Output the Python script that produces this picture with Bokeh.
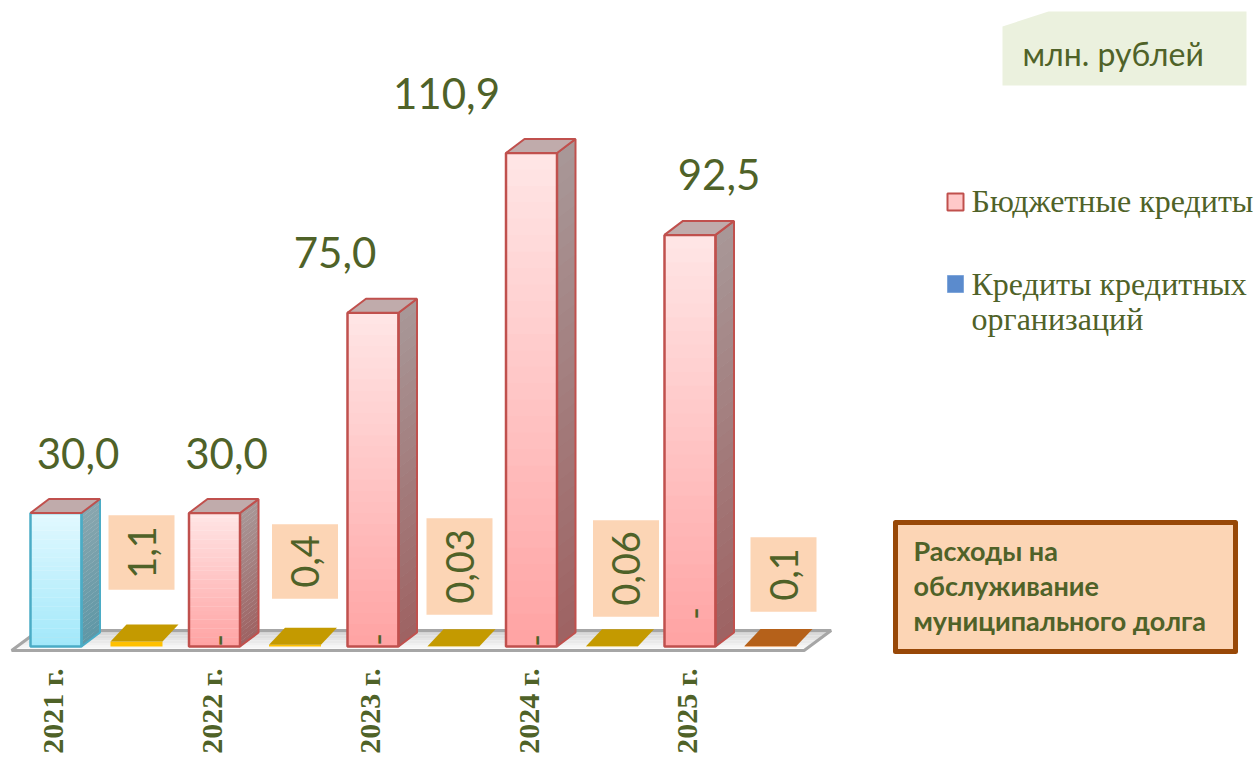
import numpy as np
from bokeh.plotting import figure
from bokeh.models import Range1d, ColumnDataSource
from bokeh.core.properties import value
from bokeh.embed import file_html
from bokeh.resources import INLINE

# ---------------- data ----------------
years = ["2021 г.", "2022 г.", "2023 г.", "2024 г.", "2025 г."]
budget_credits = [0.0, 30.0, 75.0, 110.9, 92.5]      # Бюджетные кредиты
bank_credits = [30.0, 0.0, 0.0, 0.0, 0.0]            # Кредиты кредитных организаций
debt_service = [1.1, 0.4, 0.03, 0.06, 0.1]           # Расходы на обслуживание долга

series_names = ["Бюджетные кредиты", "Кредиты кредитных организаций"]
unit_text = "млн. рублей"
box_lines = ["Расходы на", "обслуживание", "муниципального долга"]

# ---------------- layout / style ----------------
W, H = 1256, 760
PX0, SX = 55.5, 158.5        # pixel x of first category, px per category
PY0, SY = 646.0, 4.45        # pixel y of zero line, px per unit
BL = 0.38                    # baseline correction (fraction of font size)


def X(px):
    return (px - PX0) / SX


def Y(py):
    return (PY0 - py) / SY


def dX(px):
    return px / SX


def dY(py):
    return py / SY


GREEN = "#4F6228"
BAR_HW = dX(25.5)
DX, DY = dX(18.5), dY(14)
SERV_OFF = dX(80.5)
SERV_HW = dX(26)
SDX, SDY = dX(16), dY(17)

total_label_dx_px = [22, 12, -38, -85, 29]
total_label_gap_px = 30
service_label_dx_px = [5, 10, 6, 14, 13]
service_label_yc_px = [552, 561, 566, 568, 574]
dash_label_y_px = [640, 640, 639, 640, 613]
service_top_colors = ["#C49A00", "#C49A00", "#C49A00", "#C49A00", "#B5611A"]
service_front_colors = ["#FFC000", "#FFC000", "#FFC000", "#FFC000", "#E46C0A"]

styles = {
    "budget": dict(front=("#FFE6E6", "#FFA3A3"), side=("#A89898", "#9E6262"),
                   top="#C0ABAB", line="#C0504D"),
    "bank": dict(front=("#E2F9FF", "#A2E8FA"), side=("#8AA6AE", "#5E97A6"),
                 top="#C0ABAB", line="#4BACC6"),
}


def hex2rgb(h):
    h = h.lstrip("#")
    return np.array([int(h[i:i + 2], 16) for i in (0, 2, 4)], dtype=float)


def lerp(c1, c2, t):
    a, b = hex2rgb(c1), hex2rgb(c2)
    c = a + (b - a) * t
    return "#%02x%02x%02x" % tuple(int(round(v)) for v in c)


p = figure(width=W, height=H, output_backend="svg", toolbar_location=None,
           x_range=Range1d(X(0), X(W)), y_range=Range1d(Y(H), Y(0)),
           x_axis_location=None, y_axis_location=None, min_border=0,
           outline_line_color=None, background_fill_color="white",
           border_fill_color="white")
p.grid.visible = False

# ---------------- floor ----------------
n_cat = len(years)
fl_l, fl_r = -0.28, (n_cat - 1) + 0.72
fl_y0, fl_y1 = Y(650), Y(630)
fl_dx = dX(27)
NF = 8
fxs, fys, fcs = [], [], []
for k in range(NF):
    t0, t1 = k / NF, (k + 1) / NF
    ya, yb = fl_y0 + (fl_y1 - fl_y0) * t0, fl_y0 + (fl_y1 - fl_y0) * t1
    xa, xb = fl_dx * t0, fl_dx * t1
    fxs.append([fl_l + xa, fl_r + xa, fl_r + xb, fl_l + xb])
    fys.append([ya, ya, yb, yb])
    fcs.append(lerp("#FFFFFF", "#D0D0D0", (t0 + t1) / 2))
p.patches(xs=fxs, ys=fys, fill_color=fcs, line_color=None)
p.patch(x=[fl_l, fl_r, fl_r + fl_dx, fl_l + fl_dx], y=[fl_y0, fl_y0, fl_y1, fl_y1],
        fill_color=None, line_color="#A6A6A6", line_width=3)

# ---------------- flat service bars ----------------
for i, v in enumerate(debt_service):
    c = i + SERV_OFF
    l, r = c - SERV_HW, c + SERV_HW
    p.quad(left=[l], right=[r], bottom=[0], top=[v], fill_color=service_front_colors[i],
           line_color=None)
    p.patch(x=[l, r, r + SDX, l + SDX], y=[v, v, v + SDY, v + SDY],
            fill_color=service_top_colors[i], line_color=None)

# ---------------- main 3D bars ----------------
N = 30
qd = dict(left=[], right=[], bottom=[], top=[], color=[])
sd = dict(xs=[], ys=[], color=[])
outline_front = dict(left=[], right=[], bottom=[], top=[], color=[])
outline_side = dict(xs=[], ys=[], color=[])
top_faces = dict(xs=[], ys=[], fill=[], line=[])

for i in range(n_cat):
    l, r = i - BAR_HW, i + BAR_HW
    base = 0.0
    for key, v in (("bank", bank_credits[i]), ("budget", budget_credits[i])):
        if v <= 0:
            continue
        st = styles[key]
        y0, y1 = base, base + v
        for k in range(N):
            a = y0 + v * k / N
            b = y0 + v * (k + 1) / N
            t = 1 - (k + 0.5) / N
            qd["left"].append(l)
            qd["right"].append(r)
            qd["bottom"].append(a)
            qd["top"].append(b + v * 0.002)
            qd["color"].append(lerp(st["front"][0], st["front"][1], t))
            sd["xs"].append([r, r + DX, r + DX, r])
            sd["ys"].append([a, a + DY, b + DY + v * 0.002, b + v * 0.002])
            sd["color"].append(lerp(st["side"][0], st["side"][1], t))
        outline_front["left"].append(l)
        outline_front["right"].append(r)
        outline_front["bottom"].append(y0)
        outline_front["top"].append(y1)
        outline_front["color"].append(st["line"])
        outline_side["xs"].append([r, r + DX, r + DX, r])
        outline_side["ys"].append([y0, y0 + DY, y1 + DY, y1])
        outline_side["color"].append(st["line"])
        base = y1
    st = styles["budget"]
    top_faces["xs"].append([l, r, r + DX, l + DX])
    top_faces["ys"].append([base, base, base + DY, base + DY])
    top_faces["fill"].append(st["top"])
    top_faces["line"].append(st["line"])

p.quad(left="left", right="right", bottom="bottom", top="top", fill_color="color",
       line_color=None, source=ColumnDataSource(qd))
p.patches(xs="xs", ys="ys", fill_color="color", line_color=None, source=ColumnDataSource(sd))
p.patches(xs="xs", ys="ys", fill_color=None, line_color="color", line_width=2,
          source=ColumnDataSource(outline_side))
p.quad(left="left", right="right", bottom="bottom", top="top", fill_color=None,
       line_color="color", line_width=2.5, source=ColumnDataSource(outline_front))
p.patches(xs="xs", ys="ys", fill_color="fill", line_color="line", line_width=2,
          source=ColumnDataSource(top_faces))

# ---------------- labels ----------------
totals = [a + b for a, b in zip(budget_credits, bank_credits)]
p.text(x=[i + dX(total_label_dx_px[i]) for i in range(n_cat)],
       y=[t + DY + dY(total_label_gap_px + BL * 42) for t in totals],
       text=[f"{t:.1f}".replace(".", ",") for t in totals],
       text_font=value("Lato"), text_font_size=value("42px"), text_color=GREEN,
       text_align="center", text_baseline="alphabetic")

# rotated service labels with boxes
p.text(x=[i + SERV_OFF + dX(service_label_dx_px[i]) for i in range(n_cat)],
       y=[Y(v) for v in service_label_yc_px],
       text=[f"{v:g}".replace(".", ",") for v in debt_service],
       angle=np.pi / 2, text_font=value("Lato"), text_font_size=value("38px"),
       text_color=GREEN, text_align="center", text_baseline="middle",
       background_fill_color="#FCD5B5", padding=dict(x=11, y=19))

# dash labels for zero-valued bank credits
dash_idx = [i for i, v in enumerate(bank_credits) if v == 0]
p.text(x=[i + dX(4) for i in dash_idx], y=[Y(dash_label_y_px[i]) for i in dash_idx],
       text=["-" for _ in dash_idx], angle=np.pi / 2, text_font=value("Lato"),
       text_font_size=value("34px"), text_color=GREEN, text_align="center",
       text_baseline="middle")

# category labels (rotated)
p.text(x=[i + dX(-3.5) for i in range(n_cat)], y=[Y(668)] * n_cat, text=years,
       angle=np.pi / 2, text_font=value("Liberation Serif"), text_font_style="bold",
       text_font_size=value("30px"), text_color=GREEN, text_align="right",
       text_baseline="middle")

# ---------------- unit box ----------------
p.patch(x=[X(1002), X(1048), X(1246), X(1246), X(1002)],
        y=[Y(26), Y(11), Y(11), Y(85), Y(85)], fill_color="#EBF1DE", line_color=None)
p.text(x=[X(1022)], y=[Y(65 - BL * 32)], text=[unit_text], text_font=value("Lato"),
       text_font_size=value("32px"), text_color=GREEN, text_align="left",
       text_baseline="alphabetic")

# ---------------- legend ----------------
p.quad(left=[X(947)], right=[X(963)], top=[Y(193)], bottom=[Y(210)],
       fill_color="#FFC9C9", line_color="#C0504D", line_width=2)
p.quad(left=[X(947)], right=[X(963)], top=[Y(275)], bottom=[Y(292)],
       fill_color="#5B8BCD", line_color="#7FA6DA", line_width=1)
p.text(x=[X(971)], y=[Y(213 - BL * 32)], text=[series_names[0]],
       text_font=value("Liberation Serif"),
       text_font_size=value("32px"), text_color=GREEN, text_align="left",
       text_baseline="alphabetic")
p.text(x=[X(971), X(971)], y=[Y(296 - BL * 32), Y(331 - BL * 32)],
       text=["Кредиты кредитных", "организаций"],
       text_font=value("Liberation Serif"), text_font_size=value("32px"),
       text_color=GREEN, text_align="left", text_baseline="alphabetic")

# ---------------- service box ----------------
p.quad(left=[X(895)], right=[X(1235)], top=[Y(522)], bottom=[Y(651)],
       fill_color="#FCD5B5", line_color="#984807", line_width=5, line_join="round")
p.text(x=[X(913)] * 3, y=[Y(v - BL * 27) for v in (560, 595, 630)], text=box_lines,
       text_font=value("Lato"), text_font_style="bold", text_font_size=value("27px"),
       text_color=GREEN, text_align="left", text_baseline="alphabetic")

open("out.html", "w").write(file_html(p, INLINE))
